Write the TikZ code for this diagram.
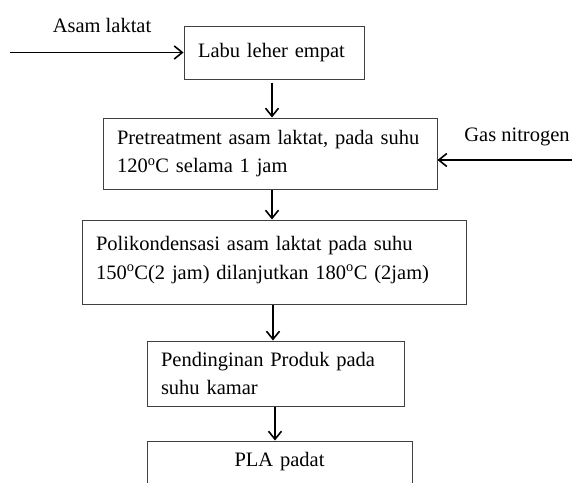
\documentclass[tikz,border=0pt]{standalone}
\usepackage{fontspec}
\setmainfont{Liberation Serif}
\usetikzlibrary{arrows.meta}

\begin{document}
\begin{tikzpicture}[x=1pt,y=-1pt,font=\fontsize{20.5}{28.5}\selectfont,
    kotak/.style={draw=black!75,line width=1pt,inner xsep=14pt,inner ysep=0pt,align=left},
    panah/.style={-{Straight Barb[length=8pt,width=13pt]},line width=1.6pt}]
    \useasboundingbox (0,0) rectangle (572,482);
    \clip (0,0) rectangle (572,482);

    \node[kotak,text width=152pt,minimum height=53pt] (labu) at (274,52.5) {\raisebox{3pt}{Labu leher empat}};
    \node[kotak,text width=306pt,minimum height=71pt] (pretreat) at (270,153.5) {\mbox{Pretreatment asam laktat, pada suhu}\\\mbox{120\textsuperscript{o}C selama 1 jam}};
    \node[kotak,text width=356pt,minimum height=84pt] (poli) at (274,262) {\mbox{Polikondensasi asam laktat pada suhu}\\\mbox{150\textsuperscript{o}C(2 jam) dilanjutkan 180\textsuperscript{o}C (2jam)}\\[-20pt]\mbox{}};
    \node[kotak,text width=229pt,minimum height=65pt] (dingin) at (275.5,373.5) {\mbox{Pendinginan Produk pada}\\\mbox{suhu kamar}};
    \node[kotak,text width=237pt,minimum height=42pt,align=center] (pla) at (279.5,462) {PLA padat};

    % bahan masuk
    \coordinate (asam) at (10,52.5);
    \node (asamlbl) at (102,25) {Asam laktat};
    \coordinate (gas) at (572,160);
    \node (gaslbl) at (517,137) {Gas nitrogen};

    \draw[panah] (asam) -- (labu.west);
    \draw[panah] (gas) -- (gas -| pretreat.east);
    \draw[panah,shorten <=3pt] (272,0 |- labu.south) -- (272,0 |- pretreat.north);
    \draw[panah] (272,0 |- pretreat.south) -- (272,0 |- poli.north);
    \draw[panah] (273,0 |- poli.south) -- (273,0 |- dingin.north);
    \draw[panah] (275,0 |- dingin.south) -- (275,0 |- pla.north);
\end{tikzpicture}
\end{document}
